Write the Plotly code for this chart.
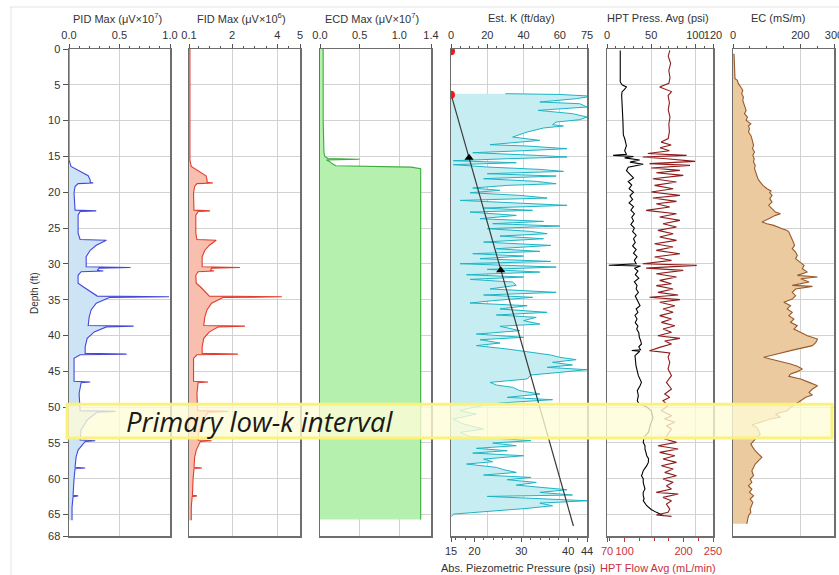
import plotly.graph_objects as go

W, H = 839, 575

# ---------------- data ----------------
pid_depth = [0, 15.5, 16.4, 16.9, 17.4, 17.7, 18.3, 18.6, 18.7, 18.8, 19.2, 20.1, 22.5, 22.6, 22.7, 23.2, 25.7, 26.6, 26.7, 27.4,
             28.1, 29.0, 30.4, 30.5, 30.6, 30.9, 31.0, 31.1, 31.6, 32.7, 33.2, 33.9, 34.5, 34.6, 34.7, 35.5, 36.4, 37.4, 38.6, 38.7,
             38.8, 39.5, 40.4, 41.6, 42.5, 42.6, 42.7, 43.2, 46.4, 46.5, 46.6, 48.1, 50.5, 50.6, 50.7, 51.8, 53.2, 54.6, 54.7, 54.8,
             56.0, 57.0, 58.4, 58.5, 58.6, 60.0, 62.3, 62.4, 62.5, 64.0, 65.8]
pid_val = [0, 0, 0.02, 0.08, 0.14, 0.19, 0.21, 0.21, 0.24, 0.09, 0.06, 0.05, 0.06, 0.27, 0.11, 0.09, 0.09, 0.11, 0.37, 0.27,
           0.21, 0.17, 0.17, 0.61, 0.3, 0.28, 0.34, 0.12, 0.09, 0.09, 0.14, 0.21, 0.28, 0.99, 0.4, 0.27, 0.22, 0.2, 0.19, 0.64,
           0.37, 0.25, 0.18, 0.16, 0.16, 0.57, 0.11, 0.05, 0.05, 0.21, 0.12, 0.1, 0.11, 0.46, 0.28, 0.18, 0.12, 0.11, 0.26, 0.16,
           0.09, 0.07, 0.06, 0.16, 0.06, 0.05, 0.04, 0.09, 0.04, 0.03, 0.03]
fid_val = [0.14, 0.14, 0.2, 0.45, 0.7, 0.85, 0.9, 0.9, 1.16, 0.45, 0.35, 0.3, 0.32, 1.03, 0.5, 0.4, 0.4, 0.45, 1.3, 1.0,
           0.8, 0.68, 0.68, 2.35, 1.1, 1.05, 1.2, 0.5, 0.4, 0.42, 0.6, 0.8, 1.0, 4.2, 1.6, 1.1, 0.9, 0.8, 0.75, 2.57,
           1.4, 1.0, 0.75, 0.68, 0.68, 2.26, 0.45, 0.3, 0.3, 0.94, 0.5, 0.45, 0.48, 1.82, 0.95, 0.72, 0.55, 0.5, 1.1, 0.6,
           0.42, 0.35, 0.32, 0.67, 0.32, 0.28, 0.25, 0.45, 0.24, 0.2, 0.2]

ecd_depth = [0, 5, 10, 14.5, 15.0, 15.3, 15.4, 15.5, 15.7, 16.0, 16.3, 16.5, 16.7, 30, 50, 65.7]
ecd_val = [0.04, 0.04, 0.04, 0.05, 0.06, 0.1, 0.5, 0.08, 0.12, 0.15, 0.2, 1.15, 1.27, 1.27, 1.27, 1.27]

k_depth = [6.24, 6.35, 6.55, 6.70, 6.94, 7.40, 7.64, 8.10, 8.57, 9.03, 9.50, 9.87, 10.20, 10.57, 10.75, 11.03, 11.59, 12.29,
           12.76, 12.99, 13.36, 13.55, 13.92, 14.20, 14.48, 14.85, 15.08, 15.32, 15.60, 15.88, 16.15, 16.48, 16.81, 17.09,
           17.41, 17.74, 18.11, 18.48, 18.81, 19.04, 19.41, 19.74, 20.07, 20.44, 20.81, 21.14, 21.46, 21.83, 22.21, 22.53,
           22.77, 23.23, 23.70, 24.07, 24.39, 24.72, 25.09, 25.47, 25.79, 26.12, 26.49, 26.96, 27.42, 27.89, 28.26, 28.58,
           28.91, 29.28, 29.66, 29.98, 30.45, 30.77, 31.15, 31.52, 31.84, 32.17, 32.54, 33.0, 33.5, 33.98, 34.35, 34.67,
           35.14, 35.47, 35.84, 36.3, 36.77, 37.14, 37.47, 37.93, 38.4, 38.72, 39.33, 39.8, 40.26, 40.59, 41.05, 41.42,
           41.89, 42.36, 42.73, 43.05, 43.38, 43.75, 44.12, 44.45, 44.78, 45.15, 45.52, 46.08, 46.55, 46.92, 47.24, 47.71,
           48.18, 48.64, 48.97, 49.43, 50.04, 50.5, 50.97, 51.67, 52.37, 53.06, 53.53, 54.09, 54.69, 55.02, 55.39, 55.76,
           56.09, 56.42, 56.79, 57.26, 57.63, 57.95, 58.42, 58.74, 59.12, 59.49, 59.82, 60.14, 60.52, 60.89, 61.21, 61.54,
           61.91, 62.28, 62.47, 62.85, 63.08, 63.41, 63.78, 64.14, 64.47, 64.94, 65.26]
k_val = [30, 60, 75, 75, 69, 49, 71, 75, 48, 67, 75, 71, 58, 56, 62, 51, 42, 34,
         49, 40, 21.5, 42, 64, 40, 12, 47, 64, 31, 1.3, 36, 1.3, 20, 49, 62,
         20, 58, 18, 47, 58, 31, 12, 27, 10.5, 38, 53, 5, 31, 64, 18, 45,
         10.5, 36, 16, 51, 23, 60, 20, 44, 53, 27, 51, 18, 55, 25, 49, 12,
         40, 16, 55, 5, 58, 20, 49, 8.6, 40, 10.5, 34, 36, 21.5, 58, 18, 45,
         23, 10.5, 42, 27, 53, 25, 47, 40, 49, 27, 38, 14, 40, 16, 27, 14,
         31, 45, 55, 60, 69, 56, 67, 53, 75, 60, 44, 42, 21.5, 25, 34, 38,
         49, 31, 56, 27, 12, 5, 14, 1.3, 7, 18, 5, 10.5, 44, 23, 36, 14,
         31, 12, 40, 18, 23, 8.6, 25, 29, 36, 18, 44, 31, 47, 36, 49, 64,
         49, 67, 20, 58, 75, 49, 56, 42, 23, 1.3, 0.4]

piezo_depth = [6.3, 66.6]
piezo_val = [15, 41.1]
tri_depth = [15.2, 30.9]
tri_val = [18.85, 25.6]
dot_depth = [0.3, 6.4]
dot_val = [15, 15]

press_depth = [0.2, 2, 4.6, 5.0, 5.3, 5.6, 6.0, 6.5, 8, 10, 12, 12.5, 13.5, 14.2, 14.7, 14.85, 15.0, 15.2, 15.5, 15.8,
               16.1, 16.5, 17.0, 17.5, 18.0, 18.5, 19.0, 19.5, 20.0, 20.5, 21.0, 21.5, 22.0, 22.5, 23.0, 23.5, 24.0, 24.5,
               25.0, 25.5, 26.0, 26.5, 27.0, 27.5, 28.0, 28.5, 29.0, 29.5, 30.0, 30.2, 30.3, 30.6, 31.0, 31.5, 32.0, 32.5,
               33.0, 33.5, 34.0, 34.5, 35.0, 35.5, 35.84, 36.3, 36.77, 37.2, 37.7, 38.2, 38.7, 39.1, 39.6, 40.26, 40.7,
               41.19, 41.6, 42.0, 42.1, 42.2, 42.82, 44.22, 45.61, 46.55, 47.01, 47.71, 48.41, 49.11, 49.5, 50.0, 50.5,
               51.5, 52.5, 53.5, 54.2, 54.93, 55.4, 55.86, 56.3, 56.79, 57.2, 57.72, 58.18, 58.88, 59.3, 59.58, 60.0,
               60.51, 61.0, 61.44, 61.9, 62.37, 62.8, 63.07, 63.77, 64.3, 64.7, 65.17]
press_val = [15, 14.7, 15, 17, 22, 20, 17, 16.6, 17.5, 18, 18.5, 20, 22, 20, 22, 7, 30, 20, 37, 26,
             41, 24, 22, 26, 30, 24, 28, 25, 30, 26, 29, 25, 30, 27, 31, 28, 30, 27,
             31, 29, 33, 30, 32, 29, 33, 30, 34, 31, 33, 2, 38, 31, 35, 32, 36, 31,
             34, 33, 35.5, 32, 33.6, 36, 37.4, 33, 35, 31.7, 34, 32, 35, 33.6, 36, 36.6, 38,
             39, 36, 38, 28, 37, 31.7, 32.8, 35.5, 39, 37.4, 34.3, 35.5, 34.3, 36, 45, 50,
             52, 49, 47, 42, 41, 43, 43, 44, 45, 47, 46.8, 45, 41, 40, 39, 41,
             41, 42, 43, 41, 41, 42, 41, 45, 50, 56, 64]

flow_depth = [0.2, 1.0, 2.0, 3.0, 4.0, 4.8, 5.3, 5.5, 5.95, 6.5, 7.5, 8.5, 9.5, 10.5, 11.5, 12.5, 13.0, 13.4, 13.8, 14.2,
              14.6, 14.85, 15.08, 15.32, 15.69, 16.01, 16.25, 16.62, 16.95, 17.27, 17.65, 18.11, 18.58, 19.04, 19.51,
              19.97, 20.44, 20.81, 21.28, 21.6, 22.07, 22.53, 23.0, 23.46, 23.93, 24.39, 24.86, 25.33, 25.79, 26.26,
              26.72, 27.19, 27.65, 28.12, 28.58, 29.05, 29.52, 29.98, 30.21, 30.59, 30.91, 31.38, 31.84, 32.31, 32.77,
              33.04, 33.51, 33.98, 34.35, 34.67, 35.0, 35.37, 35.84, 36.3, 36.77, 37.23, 37.7, 38.17, 38.63, 39.1,
              39.56, 40.03, 40.4, 40.77, 41.19, 41.66, 42.12, 42.45, 43.05, 43.75, 44.68, 45.61, 46.55, 47.48, 48.18,
              48.64, 49.11, 49.8, 50.5, 51.2, 51.67, 52.13, 52.6, 53.06, 53.76, 54.46, 54.93, 55.39, 55.86, 56.32,
              56.79, 57.25, 57.72, 58.18, 58.65, 59.12, 59.58, 60.05, 60.51, 60.98, 61.44, 61.91, 62.14, 62.61, 63.07,
              63.54, 64.24, 64.7, 65.07, 65.26]
flow_val = [176.6, 174, 178, 175, 177, 175, 159.4, 165.1, 179.5, 173.7, 176, 174, 177, 175, 176, 174, 162, 179, 160, 176,
            139.3, 205.2, 130.7, 170.9, 219.6, 142.2, 211, 145.1, 193.8, 153.7, 199.5, 147.9, 188, 150.8, 182.3,
            145.1, 193.8, 147.9, 188, 153.7, 176.6, 136.5, 188, 159.4, 193.8, 165.1, 188, 156.5, 182.3, 159.4,
            188, 150.8, 182.3, 153.7, 193.8, 150.8, 179.5, 130.7, 222.4, 136.5, 199.5, 153.7, 188, 159.4, 179.5,
            153.7, 182.3, 156.5, 190.9, 142.2, 193.8, 159.4, 185.2, 165.1, 182.3, 159.4, 179.5, 162.3, 185.2, 165.1,
            179.5, 156.5, 193.8, 168, 179.5, 159.4, 142.2, 176.6, 173.7, 176.6, 173.7, 179.5, 170.9, 179.5, 168,
            176.6, 165.1, 173.7, 162.3, 179.5, 168, 185.2, 170.9, 179.5, 173.7, 168, 188, 156.5, 190.9, 159.4,
            185.2, 165.1, 188, 162.3, 182.3, 168, 188, 165.1, 182.3, 170.9, 179.5, 153.7, 190.9, 165.1, 179.5,
            170.9, 176.6, 173.7, 153.7, 179.5]

ec_depth = [0.65, 3.0, 4.14, 4.38, 4.84, 5.31, 5.77, 6.24, 6.7, 7.17, 7.64, 8.1, 8.57, 9.03, 9.5, 9.96, 10.43, 10.75,
            11.13, 11.59, 12.06, 12.52, 12.99, 13.45, 13.92, 14.39, 14.85, 15.32, 15.78, 16.25, 16.71, 17.18, 17.64,
            18.11, 18.58, 19.04, 19.51, 19.83, 20.07, 20.44, 20.9, 21.37, 21.83, 22.3, 22.77, 23.0, 23.23, 23.7,
            24.16, 24.39, 24.63, 25.09, 25.33, 25.56, 26.02, 26.49, 26.96, 27.42, 27.89, 28.35, 28.82, 29.28, 29.75,
            30.21, 30.68, 31.15, 31.61, 31.84, 32.08, 32.54, 33.0, 33.14, 33.51, 33.98, 34.44, 34.91, 35.37, 35.84,
            36.3, 36.77, 37.23, 37.7, 38.17, 38.63, 39.1, 39.56, 40.03, 40.49, 40.96, 41.42, 41.66, 42.12, 42.59,
            43.05, 43.29, 43.66, 43.98, 44.31, 44.68, 45.05, 45.38, 45.7, 46.08, 46.55, 47.01, 47.48, 47.95, 48.32,
            48.64, 49.11, 49.58, 50.04, 50.5, 50.97, 51.43, 51.67, 52.13, 52.51, 52.83, 53.3, 53.76, 54.23, 54.69,
            55.16, 55.62, 56.09, 56.56, 57.02, 57.49, 57.95, 58.42, 58.88, 59.58, 60.05, 60.51, 60.98, 61.44, 61.91,
            62.37, 62.84, 63.3, 63.77, 64.24, 64.7, 65.17, 66.3]
ec_val = [3, 4, 6, 13, 16, 23, 29, 26, 31, 29, 33, 36, 39, 34, 43, 39, 53, 46,
          49, 46, 53, 56, 59, 61, 58, 64, 59, 63, 61, 66, 64, 68, 71,
          74, 81, 89, 101, 113, 109, 116, 109, 116, 106, 116, 126, 141, 126, 106,
          86, 101, 121, 146, 161, 166, 171, 176, 179, 183, 176, 186, 191, 186, 199,
          211, 206, 221, 191, 251, 201, 226, 176, 236, 186, 176, 186, 176, 151, 171,
          161, 176, 166, 181, 171, 191, 181, 201, 221, 251, 246, 236, 211, 171, 131,
          91, 111, 146, 171, 191, 206, 191, 171, 166, 201, 226, 251, 236, 226, 236,
          216, 201, 186, 171, 161, 126, 141, 111, 81, 56, 71, 76, 81, 71, 61,
          53, 59, 66, 76, 86, 76, 66, 61, 56, 61, 51, 56, 46, 56, 49,
          61, 51, 59, 56, 51, 53, 46, 41]

depth_ticks = [0, 5, 10, 15, 20, 25, 30, 35, 40, 45, 50, 55, 60, 65, 68]
band_top, band_bottom = 49.6, 54.3

# ---------------- layout helpers ----------------
def px(x):
    return x / W

def py(y):
    return (H - y) / H

FONT = "Liberation Sans, Arial, sans-serif"
TXT = "#333333"
LINE = "#6e6e6e"
GRID = "#d2d2d2"

panels = {1: (69, 170), 2: (189, 300), 3: (320, 431), 4: (451, 587), 5: (607, 713), 6: (733, 834)}
ydom = [py(536), py(49)]

top_axes = {
    1: dict(range=[0, 1.0], tickvals=[0, 0.5, 1.0], ticktext=["0.0", "0.5", "1.0"], minor_dtick=0.1),
    2: dict(range=[0.1, 5], tickvals=[0.1, 2, 4, 5], ticktext=["0.1", "2", "4", "5"], minor_dtick=0.5),
    3: dict(range=[0, 1.4], tickvals=[0, 0.5, 1.0, 1.4], ticktext=["0.0", "0.5", "1.0", "1.4"], minor_dtick=None),
    4: dict(range=[0, 75], tickvals=[0, 20, 40, 60, 75], ticktext=["0", "20", "40", "60", "75"], minor_dtick=5),
    5: dict(range=[0, 120], tickvals=[0, 50, 100, 120], ticktext=["0", "50", "100", "120"], minor_dtick=10),
    6: dict(range=[0, 300], tickvals=[0, 200, 300], ticktext=["0", "200", "300"], minor_dtick=50),
}

layout = dict(
    width=W, height=H,
    margin=dict(l=0, r=0, t=0, b=0, autoexpand=False),
    paper_bgcolor="white", plot_bgcolor="white",
    showlegend=False,
    font=dict(family=FONT, size=11, color=TXT),
)

for i, (a, b) in panels.items():
    s = "" if i == 1 else str(i)
    spec = top_axes[i]
    xa = dict(
        domain=[px(a), px(b)], anchor="y" + s, side="top", automargin=False, tickangle=0,
        ticklabeloverflow="allow",
        range=spec["range"], tickmode="array", tickvals=spec["tickvals"], ticktext=spec["ticktext"],
        ticks="outside", ticklen=4, tickcolor="#555555", tickwidth=1,
        tickfont=dict(size=11, color=TXT, family=FONT),
        showgrid=True, gridcolor=GRID, gridwidth=1, zeroline=False,
        showline=True, linecolor=LINE, linewidth=1.5, mirror=True,
        fixedrange=True,
    )
    if spec["minor_dtick"]:
        xa["minor"] = dict(ticks="outside", ticklen=2, tickcolor="#555555", dtick=spec["minor_dtick"],
                           tick0=0, showgrid=False)
    ya = dict(
        domain=ydom, anchor="x" + s, range=[68, 0], automargin=False,
        tickmode="array", tickvals=depth_ticks,
        showgrid=True, gridcolor=GRID, gridwidth=1, zeroline=False,
        showline=True, linecolor=LINE, linewidth=1.5, mirror=True,
        fixedrange=True,
    )
    if i == 1:
        ya.update(ticks="outside", ticklen=5, tickcolor="#555555", showticklabels=True,
                  tickfont=dict(size=11, color=TXT, family=FONT))
    else:
        ya.update(ticks="", showticklabels=False)
    layout["xaxis" + s] = xa
    layout["yaxis" + s] = ya

# secondary bottom axes
layout["xaxis7"] = dict(
    overlaying="x4", anchor="y4", side="bottom", range=[15, 44], automargin=False, tickangle=0,
    tickmode="array", tickvals=[15, 20, 30, 40, 44], ticktext=["15", "20", "30", "40", "44"],
    ticks="outside", ticklen=4, tickcolor="#555555",
    minor=dict(ticks="outside", ticklen=2, tickcolor="#555555", dtick=2, tick0=0, showgrid=False),
    tickfont=dict(size=11, color=TXT, family=FONT),
    showgrid=False, zeroline=False, showline=True, linecolor=LINE, linewidth=1.5, fixedrange=True,
)
FLOWC = "#c8323c"
layout["xaxis8"] = dict(
    overlaying="x5", anchor="y5", side="bottom", range=[70, 250], automargin=False, tickangle=0,
    tickmode="array", tickvals=[70, 100, 200, 250], ticktext=["70", "100", "200", "250"],
    ticks="outside", ticklen=4, tickcolor=FLOWC,
    minor=dict(ticks="outside", ticklen=3, tickcolor=FLOWC, dtick=25, tick0=0, showgrid=False),
    tickfont=dict(size=11, color=FLOWC, family=FONT),
    showgrid=False, zeroline=False, showline=True, linecolor=LINE, linewidth=1.5, fixedrange=True,
)

fig = go.Figure(layout=layout)

# ---------------- traces ----------------
fig.add_trace(go.Scatter(x=pid_val, y=pid_depth, xaxis="x", yaxis="y", mode="lines",
                         line=dict(color="#4646d8", width=1.1), fill="tozerox", fillcolor="#cde4f6"))
fig.add_trace(go.Scatter(x=fid_val, y=pid_depth, xaxis="x2", yaxis="y2", mode="lines",
                         line=dict(color="#e23c2a", width=1.1), fill="tozerox", fillcolor="#f9bfae"))
fig.add_trace(go.Scatter(x=ecd_val, y=ecd_depth, xaxis="x3", yaxis="y3", mode="lines",
                         line=dict(color="#3cac3c", width=1.1), fill="tozerox", fillcolor="#b6f0ae"))
fig.add_trace(go.Scatter(x=k_val, y=k_depth, xaxis="x4", yaxis="y4", mode="lines",
                         line=dict(color="#1eb4c4", width=1.0), fill="tozerox", fillcolor="#c6eef2"))
fig.add_trace(go.Scatter(x=piezo_val, y=piezo_depth, xaxis="x7", yaxis="y4", mode="lines",
                         line=dict(color="#3a3a3a", width=1.2)))
fig.add_trace(go.Scatter(x=tri_val, y=tri_depth, xaxis="x7", yaxis="y4", mode="markers",
                         marker=dict(symbol="triangle-up", size=8, color="black")))
fig.add_trace(go.Scatter(x=dot_val, y=dot_depth, xaxis="x7", yaxis="y4", mode="markers",
                         marker=dict(symbol="circle", size=8, color="#ee1c1c")))
fig.add_trace(go.Scatter(x=press_val, y=press_depth, xaxis="x5", yaxis="y5", mode="lines",
                         line=dict(color="black", width=1.1)))
fig.add_trace(go.Scatter(x=flow_val, y=flow_depth, xaxis="x8", yaxis="y5", mode="lines",
                         line=dict(color="#8e1c1c", width=1.1)))
fig.add_trace(go.Scatter(x=ec_val, y=ec_depth, xaxis="x6", yaxis="y6", mode="lines",
                         line=dict(color="#9a5a2a", width=1.1), fill="tozerox", fillcolor="#ebcaa0"))

# ---------------- annotations ----------------
ann = []
titles_top = [("PID Max (μV×10<sup>7</sup>)", 117), ("FID Max (μV×10<sup>6</sup>)", 241),
              ("ECD Max (μV×10<sup>7</sup>)", 372), ("Est. K (ft/day)", 521),
              ("HPT Press. Avg (psi)", 658), ("EC (mS/m)", 778)]
for t, xc in titles_top:
    ann.append(dict(text=t, x=px(xc), y=py(18), xref="paper", yref="paper", showarrow=False,
                    xanchor="center", yanchor="middle", font=dict(size=11, color=TXT, family=FONT)))
ann.append(dict(text="Abs. Piezometric Pressure (psi)", x=px(518), y=py(568), xref="paper", yref="paper",
                showarrow=False, xanchor="center", yanchor="middle", font=dict(size=11, color=TXT, family=FONT)))
ann.append(dict(text="HPT Flow Avg (mL/min)", x=px(658), y=py(568), xref="paper", yref="paper",
                showarrow=False, xanchor="center", yanchor="middle", font=dict(size=11, color=FLOWC, family=FONT)))
ann.append(dict(text="Depth (ft)", x=px(34), y=py(293), xref="paper", yref="paper", textangle=-90,
                showarrow=False, xanchor="center", yanchor="middle", font=dict(size=10, color=TXT, family=FONT)))
ann.append(dict(text="<i>Primary low-k interval</i>", x=px(124), y=(band_top + band_bottom) / 2,
                xref="paper", yref="y", showarrow=False, xanchor="left", yanchor="middle",
                font=dict(size=27.5, color="#1a1a1a", family="Open Sans, Lato, sans-serif")))
fig.update_layout(annotations=ann)

shapes = [
    dict(type="rect", xref="paper", yref="y", x0=px(67), x1=px(832), y0=band_top, y1=band_bottom,
         fillcolor="rgba(255,253,215,0.78)", line=dict(color="#fbf27a", width=3), layer="above"),
    dict(type="line", xref="paper", yref="paper", x0=px(10), x1=1, y0=py(7), y1=py(7),
         line=dict(color="#e4e4e4", width=1)),
    dict(type="line", xref="paper", yref="paper", x0=px(11), x1=px(11), y0=py(7), y1=0,
         line=dict(color="#e4e4e4", width=1)),
]
fig.update_layout(shapes=shapes)

fig.write_html("out.html", config={"displayModeBar": False, "staticPlot": True},
               post_script="document.body.style.margin='0';document.body.style.overflow='hidden';")
